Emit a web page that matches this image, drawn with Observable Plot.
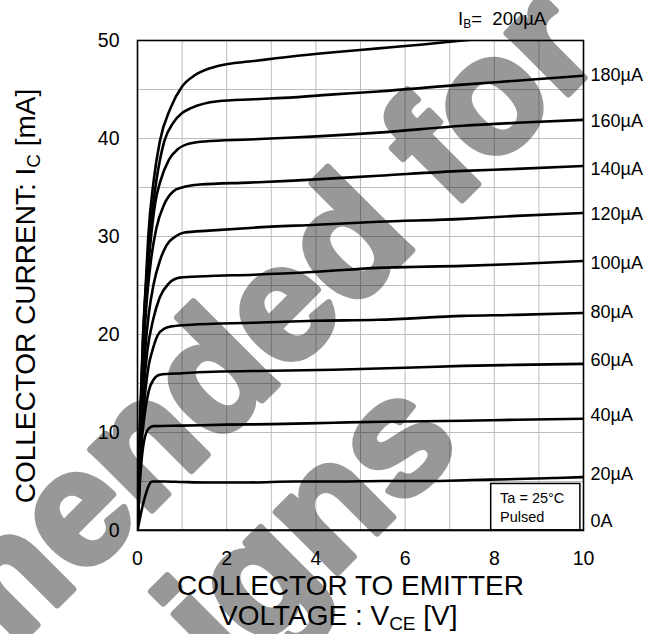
<!DOCTYPE html>
<html>
<head>
<meta charset="utf-8">
<script src="https://cdn.jsdelivr.net/npm/d3@7"></script>
<script src="https://cdn.jsdelivr.net/npm/@observablehq/plot@0.6"></script>
<style>
  html, body { margin: 0; padding: 0; background: #fff; }
  svg { display: block; }
</style>
</head>
<body>
<script>
// ---- data: [VCE (V), IC (mA)] ----
const ib0   = [[0,0],[10,0]];
const ib20  = [[0,0],[0.12,2.6],[0.33,5.0],[0.6,5.0],[1,4.95],[1.5,4.9],[2.5,4.9],[3.5,5.0],[4.5,5.0],[5.5,5.05],[6.5,5.05],[7.5,5.15],[8.5,5.25],[9.3,5.35],[10,5.45]];
const ib40  = [[0,0],[0.07,6],[0.15,9.2],[0.25,10.4],[0.36,10.65],[1,10.7],[2,10.8],[3,10.85],[4.4,11.0],[5.5,11.1],[7.3,11.2],[8.5,11.3],[10,11.4]];
const ib60  = [[0,0],[0.07,7.5],[0.15,11.5],[0.25,14.2],[0.36,15.4],[0.5,15.9],[1,16.05],[1.7,16.2],[3,16.3],[4.4,16.4],[6,16.6],[7.3,16.8],[8.5,16.9],[10,17.0]];
const ib80  = [[0,0],[0.07,8],[0.15,13],[0.25,16.8],[0.33,18.3],[0.45,19.9],[0.6,20.6],[0.8,20.85],[1.2,21.0],[2.6,21.2],[4,21.4],[5.4,21.5],[7.3,21.9],[8.5,22.0],[10,22.2]];
const ib100 = [[0,0],[0.07,9],[0.14,14.5],[0.22,18.3],[0.35,21.5],[0.5,23.8],[0.7,25.2],[0.95,25.8],[1.5,25.95],[2.6,26.1],[4,26.4],[5.4,26.8],[7.3,27.0],[8.5,27.2],[10,27.5]];
const ib120 = [[0,0],[0.06,9],[0.12,15],[0.17,18.3],[0.25,22],[0.36,25.1],[0.5,27.5],[0.65,29.1],[0.85,30.0],[1.05,30.4],[1.6,30.6],[2.6,30.9],[4,31.2],[5.4,31.5],[7.3,31.8],[8.5,32.1],[10,32.4]];
const ib140 = [[0,0],[0.06,10],[0.12,17],[0.2,23],[0.3,27.5],[0.42,30.8],[0.6,33.3],[0.8,34.6],[1.0,35.0],[1.4,35.3],[2.5,35.5],[3.5,35.7],[5.4,36.2],[7.3,36.7],[8.5,36.9],[10,37.2]];
const ib160 = [[0,0],[0.06,10.5],[0.12,18],[0.2,24.5],[0.3,29.8],[0.4,33.5],[0.51,35.6],[0.7,37.8],[0.9,38.9],[1.1,39.4],[1.5,39.7],[2.5,39.9],[3.5,40.1],[5.4,40.6],[7.3,41.3],[8.5,41.6],[10,41.9]];
const ib180 = [[0,0],[0.06,11],[0.12,19],[0.19,25.1],[0.27,29.9],[0.42,35.6],[0.6,39.7],[0.8,41.6],[1.0,42.6],[1.2,43.1],[1.8,43.8],[2.6,44.0],[3.5,44.2],[4.4,44.5],[5.4,44.8],[7.3,45.5],[8.5,45.9],[10,46.4]];
const ib200 = [[0,0],[0.06,11.5],[0.12,19.5],[0.19,25.5],[0.24,29.9],[0.36,35.6],[0.5,39.7],[0.74,43.1],[1.0,45.3],[1.3,46.5],[1.8,47.4],[2.6,47.9],[3.5,48.4],[4.4,48.8],[5.4,49.2],[6.4,49.6],[7.3,50.0],[8.5,50.5],[10,51.1]];

const baseCurrents = [0, 20, 40, 60, 80, 100, 120, 140, 160, 180, 200];
const curveSets    = [ib0, ib20, ib40, ib60, ib80, ib100, ib120, ib140, ib160, ib180, ib200];

// right-hand curve labels
const labelTexts = ["180µA","160µA","140µA","120µA","100µA","80µA","60µA","40µA","20µA","0A"];
const labelIc    = [46.5, 41.8, 36.9, 32.3, 27.3, 22.3, 17.4, 11.8, 5.7, 0.9];

// axes
const xTicks = [0, 2, 4, 6, 8, 10];
const yTicks = [0, 10, 20, 30, 40, 50];
const xGrid  = [1, 2, 3, 4, 5, 6, 7, 8, 9];
const yGrid  = [5, 10, 15, 20, 25, 30, 35, 40, 45];

// condition box (VCE / IC extents) and its text
const boxV = [7.93, 9.93];
const boxI = [0, 4.75];
const boxLines = ["Ta = 25°C", "Pulsed"];
const boxLineI = [3.25, 1.3];
const boxTextV = 8.13;

// top label position (VCE, IC)
const ibTopV = 7.2, ibTopI = 51.5;

// ---- build rows ----
const rows = [];
curveSets.forEach((pts, k) => pts.forEach(([v, i]) => rows.push({ib: baseCurrents[k], v, i})));
const labelRows = labelTexts.map((t, k) => ({t, y: labelIc[k]}));
const boxRows = [{x1: boxV[0], x2: boxV[1], y1: boxI[0], y2: boxI[1]}];
const boxTextRows = boxLines.map((t, k) => ({t, y: boxLineI[k]}));

const FONT = "'Liberation Sans', Arial, Helvetica, sans-serif";

const chart = Plot.plot({
  width: 661,
  height: 634,
  marginLeft: 137,
  marginRight: 78,
  marginTop: 40,
  marginBottom: 104,
  x: {domain: [0, 10]},
  y: {domain: [0, 50]},
  style: {fontFamily: FONT, fontSize: "19.5px", color: "#000", background: "#fff", overflow: "visible"},
  marks: [
    Plot.gridX(xGrid, {stroke: "#bdbdbd", strokeOpacity: 1, strokeWidth: 1}),
    Plot.gridY(yGrid, {stroke: "#bdbdbd", strokeOpacity: 1, strokeWidth: 1}),
    Plot.rect(boxRows, {x1: "x1", x2: "x2", y1: "y1", y2: "y2", fill: "#fff", stroke: "#000", strokeWidth: 1.5}),
    Plot.text(boxTextRows, {x: boxTextV, y: "y", text: "t", textAnchor: "start", fontSize: 14.5, fill: "#000"}),
    Plot.line(rows, {x: "v", y: "i", z: "ib", stroke: "#000", strokeWidth: 2.6, curve: "monotone-x", clip: true}),
    Plot.frame({stroke: "#000", strokeWidth: 1.6}),
    Plot.axisX({ticks: xTicks, tickSize: 0, tickPadding: 21, label: null}),
    Plot.axisY({ticks: yTicks, tickSize: 0, tickPadding: 18, label: null}),
    Plot.text(labelRows, {x: 10, y: "y", text: "t", dx: 7, textAnchor: "start", fontSize: 18, fill: "#000"})
  ]
});
document.body.appendChild(chart);

const svg = d3.select(chart);
const xs = chart.scale("x"), ys = chart.scale("y");

// I_B = 200µA label at top
const tb = svg.append("text")
  .attr("x", xs.apply(ibTopV)).attr("y", ys.apply(ibTopI))
  .attr("text-anchor", "start")
  .attr("font-family", FONT).attr("font-size", 18.5).attr("fill", "#000");
tb.append("tspan").text("I");
tb.append("tspan").attr("font-size", 12).attr("dy", 3).text("B");
tb.append("tspan").attr("dy", -3).attr("xml:space", "preserve").text("=\u00a0 200µA");

// y-axis title
const yt = svg.append("text")
  .attr("transform", "translate(35,296) rotate(-90)")
  .attr("text-anchor", "middle")
  .attr("font-family", FONT).attr("font-size", 28).attr("fill", "#000");
yt.append("tspan").text("COLLECTOR CURRENT: I");
yt.append("tspan").attr("font-size", 19).attr("dy", 5).text("C");
yt.append("tspan").attr("dy", -5).text(" [mA]");

// x-axis title (two lines)
svg.append("text")
  .attr("x", 177).attr("y", 595)
  .attr("text-anchor", "start")
  .attr("font-family", FONT).attr("font-size", 28).attr("fill", "#000")
  .text("COLLECTOR TO EMITTER");
const xt = svg.append("text")
  .attr("x", 219).attr("y", 625)
  .attr("text-anchor", "start")
  .attr("font-family", FONT).attr("font-size", 28).attr("fill", "#000");
xt.append("tspan").text("VOLTAGE : V");
xt.append("tspan").attr("font-size", 19).attr("dy", 5).text("CE");
xt.append("tspan").attr("dy", -5).text(" [V]");

// watermark (semi-transparent, heavier strokes)
const wm = svg.append("g")
  .attr("font-family", FONT).attr("font-weight", "bold").attr("font-size", 163)
  .attr("fill", "#000").attr("stroke", "#000").attr("stroke-width", 7).attr("stroke-linejoin", "round")
  .attr("opacity", 0.4)
  .attr("text-anchor", "end").attr("pointer-events", "none");
wm.append("text").attr("transform", "translate(605,57) rotate(-45)").text("Not Recommended for");
wm.append("text").attr("transform", "translate(464,446) rotate(-45)").text("New Designs");
</script>
</body>
</html>
